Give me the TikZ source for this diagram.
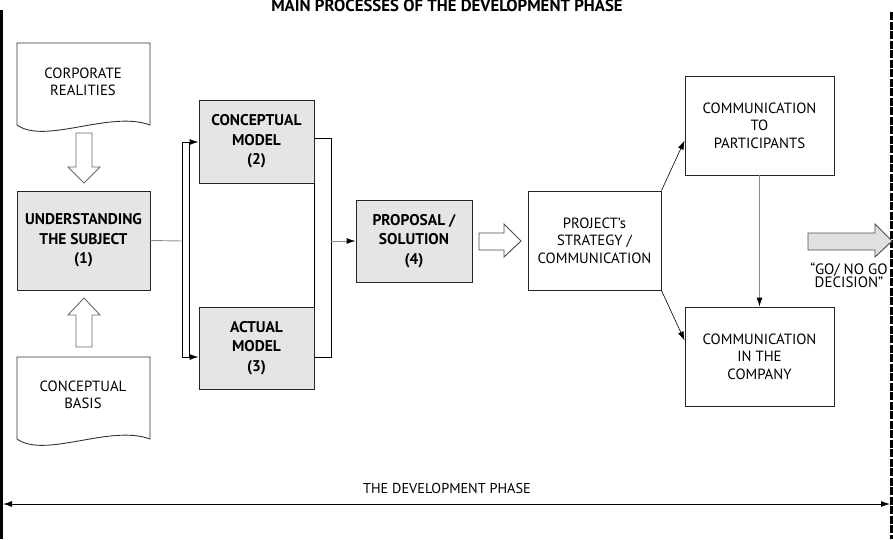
\documentclass[tikz,border=0pt]{standalone}
\usepackage{fontspec}
\setmainfont{PT Sans}
\usetikzlibrary{arrows.meta}

\tikzset{
  greybox/.style={draw=black!85, fill=black!10, align=center, inner sep=0pt,
    font=\bfseries\fontsize{15.5}{19.5}\selectfont},
  whitebox/.style={draw=black!85, fill=white, align=center, inner sep=0pt,
    font=\fontsize{14.8}{17.5}\selectfont},
  doctext/.style={align=center, font=\fontsize{14.8}{17}\selectfont},
  docshape/.style={draw=black!80, fill=white},
  hollow/.style={draw=black!60, fill=white},
  greyline/.style={draw=black!45},
  greyarrow/.style={draw=black!45, -{Latex[length=9pt,width=6pt,color=black]}},
}

\begin{document}
\begin{tikzpicture}[x=1pt, y=-1pt, line width=0.9pt, >={Latex[length=9pt,width=6pt]}]
\useasboundingbox (0,0) rectangle (893,539);

% borders and title
\draw [line width=3pt] (1.5,10) -- (1.5,539);
\draw [line width=2.5pt, dash pattern=on 8pt off 1.5pt] (891.5,12) -- (891.5,539);
\node [font=\bfseries\fontsize{16.8}{18}\selectfont] (title) at (447,6) {MAIN PROCESSES OF THE DEVELOPMENT PHASE};

% inputs
\draw [docshape] (17,43) -- (150,43) -- (150,125) .. controls (110,110) and (45,145) .. (17,125) -- cycle;
\node [doctext] (corporate) at (83,82) {CORPORATE\\REALITIES};
\draw [docshape] (17,357) -- (150,357) -- (150,439) .. controls (110,424) and (45,459) .. (17,439) -- cycle;
\node [doctext] (basis) at (83,395) {CONCEPTUAL\\BASIS};

\draw [hollow] (76,133) -- (92,133) -- (92,167) -- (100,167) -- (84,183) -- (68,167) -- (76,167) -- cycle;
\draw [hollow] (76,347) -- (92,347) -- (92,315) -- (100,315) -- (84,298) -- (68,315) -- (76,315) -- cycle;

% process boxes
\node [greybox, minimum width=133pt, minimum height=99pt] (subject) at (83.5,240.5) {UNDERSTANDING\\THE SUBJECT\\(1)};
\node [greybox, minimum width=115pt, minimum height=83pt] (concmodel) at (256.5,141.5) {CONCEPTUAL\\MODEL\\(2)};
\node [greybox, minimum width=115pt, minimum height=82pt] (actmodel) at (256.5,348) {ACTUAL\\MODEL\\(3)};
\node [greybox, minimum width=116pt, minimum height=82pt] (proposal) at (414,241) {PROPOSAL /\\SOLUTION\\(4)};

\node [whitebox, minimum width=133pt, minimum height=99pt] (strategy) at (594.5,240.5) {PROJECT’s\\STRATEGY /\\COMMUNICATION};
\node [whitebox, minimum width=149pt, minimum height=99pt] (participants) at (759.5,125.5) {COMMUNICATION\\TO\\PARTICIPANTS};
\node [whitebox, minimum width=149pt, minimum height=99pt] (company) at (759.5,356.5) {COMMUNICATION\\IN THE\\COMPANY};

% split and join
\coordinate (split) at (182,241);
\coordinate (lt) at (182,142);
\coordinate (lb) at (182,357);
\coordinate (it) at (189,142);
\coordinate (ib) at (189,357);
\coordinate (rt) at (331,138);
\coordinate (rb) at (331,357);
\coordinate (join) at (331,241);

\draw [greyline] (subject.east) -- (split);
\draw (lt) -- (lb);
\draw (it) -- (ib);
\draw [->] (lt) -- (lt -| concmodel.west);
\draw [->] (lb) -- (lb -| actmodel.west);
\draw (rt -| concmodel.east) -- (rt) -- (rb) -- (rb -| actmodel.east);
\draw (concmodel.south east) -- (actmodel.north east);
\draw [greyarrow] (join) -- (proposal.west);

% to the strategy
\draw [hollow, draw=black!70] (479,233) -- (504,233) -- (504,224) -- (521,241) -- (504,257) -- (504,250) -- (479,250) -- cycle;

\draw [line width=0.6pt, ->] (strategy.north east) -- ([yshift=-15pt]participants.west);
\draw [line width=0.6pt, ->] (strategy.south east) -- ([yshift=16pt]company.west);
\draw [greyarrow] (participants.south) -- (company.north);

% decision
\draw [draw=black!70, fill=black!12] (808,233) -- (875,233) -- (875,224) -- (892,241) -- (875,257) -- (875,250) -- (808,250) -- cycle;
\node [doctext, font=\fontsize{15}{13.5}\selectfont] (decision) at (849,275) {“GO/ NO GO\\DECISION”};

% phase
\node [font=\fontsize{14.3}{15}\selectfont] (phase) at (447,488) {THE DEVELOPMENT PHASE};
\draw [<->] (3,504) -- (890,504);

\end{tikzpicture}
\end{document}
